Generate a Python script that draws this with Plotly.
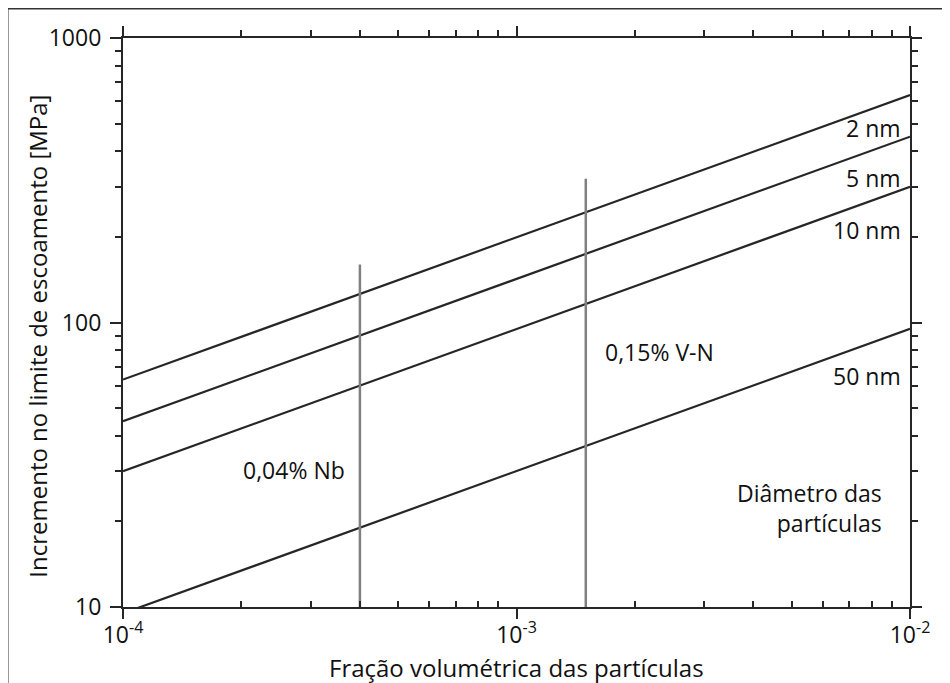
import plotly.graph_objects as go

# Data
x_frac = [1e-4, 1e-2]
series_names = ["2 nm", "5 nm", "10 nm", "50 nm"]
series_values = {
    "2 nm": [63, 630],
    "5 nm": [45, 450],
    "10 nm": [30, 300],
    "50 nm": [9.5, 95],
}
alloy_names = ["0,04% Nb", "0,15% V-N"]
alloy_x = [4e-4, 1.5e-3]
alloy_y = [[10, 160], [10, 320]]

x_tickvals = [1e-4, 1e-3, 1e-2]
x_ticktext = ["10<sup>-4</sup>", "10<sup>-3</sup>", "10<sup>-2</sup>"]
x_minor = [m * 1e-4 for m in range(2, 10)] + [m * 1e-3 for m in range(2, 10)]
y_tickvals = [10, 100, 1000]
y_ticktext = ["10", "100", "1000"]
y_minor = [m * 10 for m in range(2, 10)] + [m * 100 for m in range(2, 10)]

FONT = "Open Sans"
LINE = "#262626"

fig = go.Figure()
for name in series_names:
    fig.add_trace(go.Scatter(x=x_frac, y=series_values[name], mode="lines",
                             line=dict(color=LINE, width=2.2), showlegend=False,
                             hoverinfo="skip"))
for xv, yv in zip(alloy_x, alloy_y):
    fig.add_trace(go.Scatter(x=[xv, xv], y=yv, mode="lines",
                             line=dict(color="#808080", width=2.5), showlegend=False,
                             hoverinfo="skip"))
# invisible trace to activate secondary axes
fig.add_trace(go.Scatter(x=x_frac, y=[10, 1000], xaxis="x2", yaxis="y2", mode="lines",
                         line=dict(width=0), showlegend=False, hoverinfo="skip"))

axis_common = dict(type="log", showgrid=False, zeroline=False, showline=True,
                   linecolor=LINE, linewidth=2.2, tickcolor=LINE, tickwidth=2,
                   tickfont=dict(family=FONT, size=23, color="#111"))

def minor(vals, direction):
    return dict(tickvals=vals, ticks=direction, ticklen=6, tickwidth=2,
                tickcolor=LINE, showgrid=False)

fig.update_layout(
    width=950, height=683,
    margin=dict(l=115, r=48, t=30, b=84),
    paper_bgcolor="white", plot_bgcolor="white",
    xaxis=dict(**axis_common, range=[-4, -2], tickvals=x_tickvals, ticktext=x_ticktext,
               ticks="outside", ticklen=10, ticklabelstandoff=-4,
               minor=minor(x_minor, "inside")),
    yaxis=dict(**axis_common, range=[1, 3], tickvals=y_tickvals, ticktext=y_ticktext,
               ticks="outside", ticklen=11, ticklabelstandoff=4,
               minor=minor(y_minor, "outside")),
    xaxis2=dict(**axis_common, range=[-4, -2], overlaying="x", side="top", matches="x",
                tickvals=x_tickvals, showticklabels=False, ticks="outside", ticklen=10,
                minor=minor(x_minor, "outside")),
    yaxis2=dict(**axis_common, range=[1, 3], overlaying="y", side="right",
                tickvals=y_tickvals, showticklabels=False, ticks="outside", ticklen=10,
                minor=minor(y_minor, "outside")),
    showlegend=False,
)

tf = dict(family=FONT, size=23, color="#111")
ann = []
label_pos = {"2 nm": 0.842, "5 nm": 0.754, "10 nm": 0.662, "50 nm": 0.406}
for name in series_names:
    ann.append(dict(x=0.991, y=label_pos[name], xref="paper", yref="paper", text=name,
                    showarrow=False, xanchor="right", yanchor="middle", font=tf))
ann.append(dict(x=0.610, y=0.448, xref="paper", yref="paper", text=alloy_names[1],
                showarrow=False, xanchor="left", yanchor="middle", font=tf))
ann.append(dict(x=0.150, y=0.241, xref="paper", yref="paper", text=alloy_names[0],
                showarrow=False, xanchor="left", yanchor="middle", font=tf))
ann.append(dict(x=0.967, y=0.174, xref="paper", yref="paper", text="Diâmetro das<br>partículas",
                showarrow=False, xanchor="right", yanchor="middle", align="right", font=tf))
ann.append(dict(x=0.5, y=(607 - 667) / 569, xref="paper", yref="paper",
                text="Fração volumétrica das partículas", showarrow=False,
                xanchor="center", yanchor="middle", font=dict(family=FONT, size=24, color="#111")))
ann.append(dict(x=(38 - 123) / 787, y=0.475, xref="paper", yref="paper",
                text="Incremento no limite de escoamento [MPa]", showarrow=False, textangle=-90,
                xanchor="center", yanchor="middle", font=dict(family=FONT, size=24, color="#111")))
fig.update_layout(annotations=ann)

# outer frame
fig.add_shape(type="rect", xref="paper", yref="paper",
              x0=(7 - 123) / 787, x1=(960 - 123) / 787,
              y0=(607 - 700) / 569, y1=(607 - 8) / 569,
              line=dict(color="#333", width=3), fillcolor="rgba(0,0,0,0)", layer="above")

fig.write_html("out.html")
